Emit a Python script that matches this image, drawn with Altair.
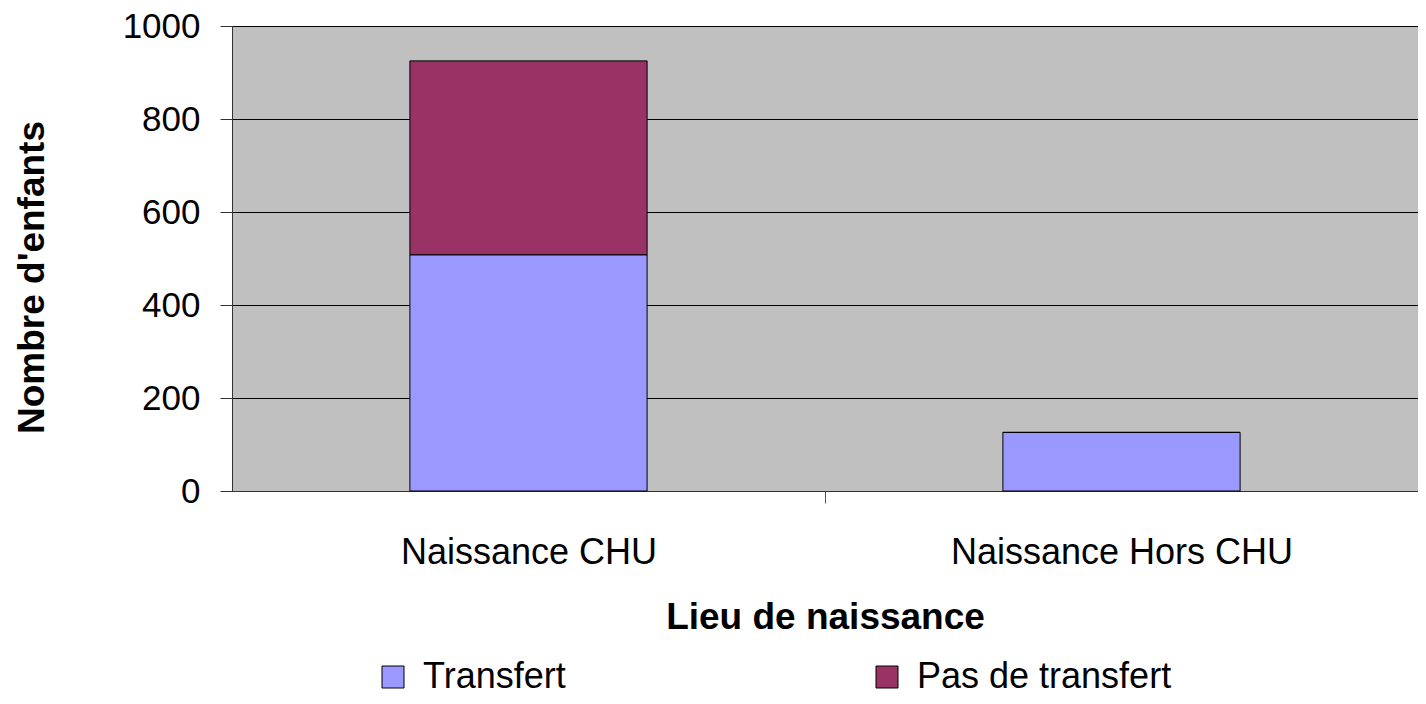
import altair as alt
import pandas as pd

categories = ["Naissance CHU", "Naissance Hors CHU"]
series = ["Transfert", "Pas de transfert"]
transfert = [508, 126]
pas_de_transfert = [417, 0]
colors = ["#9999ff", "#993366"]

rows = []
for i, c in enumerate(categories):
    rows.append({"lieu": c, "type": series[0], "ordre": 0, "n": transfert[i]})
    rows.append({"lieu": c, "type": series[1], "ordre": 1, "n": pas_de_transfert[i]})
df = pd.DataFrame(rows)

FONT = "Liberation Sans"
PLOT_W = 1186
HALF_STEP = PLOT_W / 4

chart = alt.Chart(df).mark_bar(stroke="black", strokeWidth=1).encode(
    x=alt.X(
        "lieu:N",
        sort=categories,
        scale=alt.Scale(paddingInner=0.6, paddingOuter=0.3),
        axis=alt.Axis(
            title="Lieu de naissance",
            labelAngle=0,
            labelFontSize=36,
            labelFont=FONT,
            labelColor="black",
            labelBaseline="alphabetic",
            labelPadding=60,
            labelLimit=600,
            labelOffset=-HALF_STEP,
            tickSize=12,
            tickColor="#555555",
            tickOffset=HALF_STEP,
            domainColor="#333333",
            titleFont=FONT,
            titleFontSize=37,
            titleFontWeight="bold",
            titleColor="black",
            titleBaseline="alphabetic",
            titleY=137,
        ),
    ),
    y=alt.Y(
        "n:Q",
        stack="zero",
        scale=alt.Scale(domain=[0, 1000]),
        axis=alt.Axis(
            title="Nombre d'enfants",
            values=[0, 200, 400, 600, 800, 1000],
            format="d",
            labelFontSize=35,
            labelFont=FONT,
            labelColor="black",
            labelPadding=20,
            tickSize=12,
            tickColor="#333333",
            domainColor="#333333",
            grid=True,
            gridColor="black",
            gridWidth=1,
            titleFont=FONT,
            titleFontSize=37,
            titleFontWeight="bold",
            titleColor="black",
            titleAngle=270,
            titleAlign="center",
            titleBaseline="alphabetic",
            titleX=-189,
            titleY=251,
        ),
    ),
    color=alt.Color(
        "type:N",
        sort=series,
        scale=alt.Scale(domain=series, range=colors),
        legend=alt.Legend(
            title=None,
            orient="none",
            legendX=143,
            legendY=633,
            direction="horizontal",
            columns=2,
            columnPadding=303,
            symbolType="square",
            symbolSize=484,
            symbolStrokeColor="black",
            symbolStrokeWidth=1,
            labelFont=FONT,
            labelFontSize=36,
            labelColor="black",
            labelOffset=12,
            labelLimit=600,
            padding=0,
        ),
    ),
    order=alt.Order("ordre:Q"),
).properties(
    width=PLOT_W,
    height=465,
    background="white",
    autosize=alt.AutoSizeParams(type="none"),
    padding={"left": 224, "top": 18, "right": 0, "bottom": 205},
).configure_view(
    fill="#c0c0c0",
    stroke="#808080",
    strokeWidth=1,
)

chart.save("out.html", embed_options={"renderer": "svg", "actions": False})
